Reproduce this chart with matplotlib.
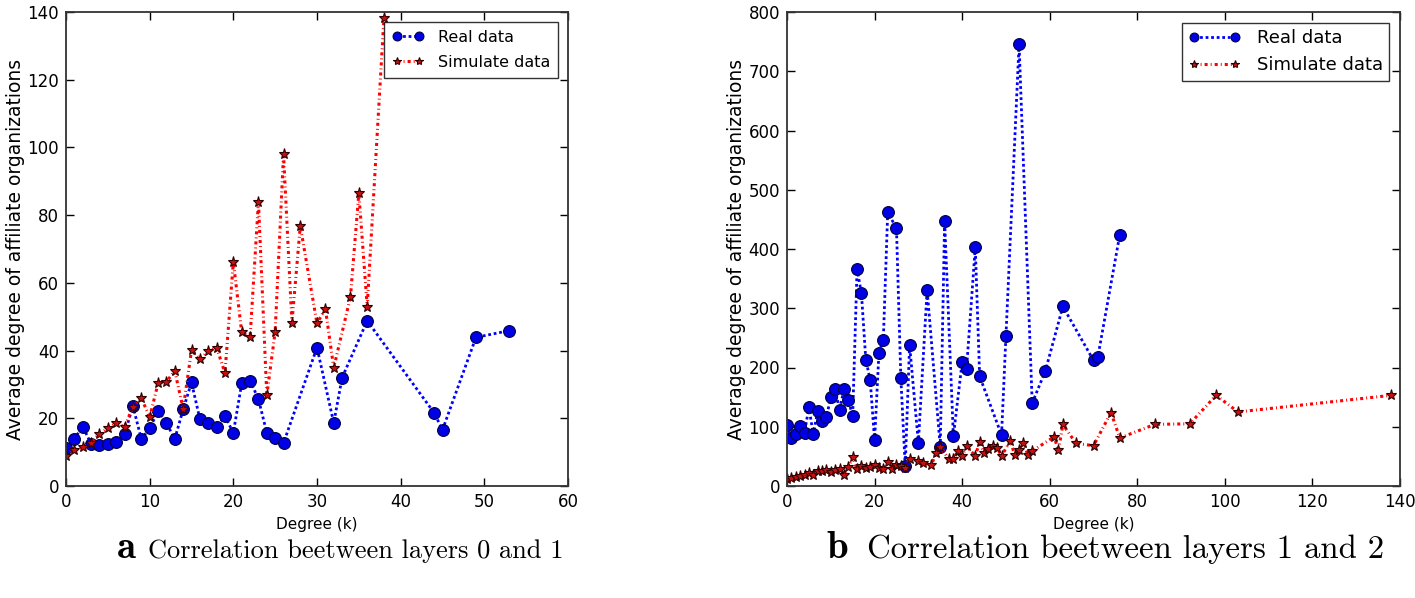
"""
Average degree of affiliate organizations vs degree, real vs simulated,
for two pairs of layers.
"""

import matplotlib
matplotlib.use("Agg")
import matplotlib.pyplot as plt


# Panel a: layers 0 and 1
k_real_a = list(range(0, 27)) + [30, 32, 33, 36, 44, 45, 49, 53]
real_a = [11.3, 14.0, 17.5, 12.5, 12.2, 12.5, 13.0, 15.4, 23.6, 13.9,
          17.0, 22.2, 18.6, 13.9, 22.6, 30.6, 19.8, 18.6, 17.5, 20.6,
          15.7, 30.3, 31.1, 25.7, 15.7, 14.3, 12.7,
          40.9, 18.6, 32.0, 48.8, 21.6, 16.6, 43.9, 45.9]

k_sim_a = list(range(0, 29)) + [30, 31, 32, 34, 35, 36, 38]
sim_a = [8.8, 10.7, 11.5, 12.8, 15.5, 17.0, 18.6, 17.5, 23.4, 26.0,
         20.3, 30.3, 30.8, 34.0, 22.8, 40.1, 37.4, 39.8, 40.9, 33.4,
         66.2, 45.4, 43.9, 83.9, 26.8, 45.6, 98.0, 48.2, 76.8,
         48.0, 52.4, 34.9, 55.9, 86.5, 53.0, 138.2]

# Panel b: layers 1 and 2
k_real_b = list(range(0, 24)) + [25, 26, 27, 28, 30, 32, 35, 36, 38, 40,
                                 41, 43, 44, 49, 50, 53, 56, 59, 63, 70,
                                 71, 76]
real_b = [103, 81, 87, 101, 90, 133, 87, 126, 109, 116,
          150, 164, 128, 163, 145, 118, 366, 325, 213, 179,
          77, 225, 247, 462,
          435, 182, 33, 238, 73, 331, 66, 447, 84, 209,
          197, 403, 185, 86, 253, 746, 140, 194, 303, 212,
          218, 424]

k_sim_b = list(range(0, 29)) + [30, 31, 33, 34, 35, 37, 38, 39, 40, 41,
                                43, 44, 45, 46, 47, 48, 49, 51, 52, 53,
                                54, 55, 56, 61, 62, 63, 66, 70, 74, 76,
                                84, 92, 98, 103, 138]
sim_b = [12, 14, 15.5, 17.7, 19.4, 22, 19, 25, 25, 26.7,
         23, 27.8, 29, 19.4, 32, 48.6, 28, 33.5, 30.6, 32.4,
         34.6, 30.6, 29, 40, 28, 34.6, 33.5, 31, 46,
         42, 38, 36, 55, 66, 45, 45, 59, 51, 67,
         51, 74, 56, 62, 68, 64, 51, 76, 53, 60,
         73, 53, 59, 83, 60, 104, 72, 68, 124, 81,
         104, 105, 153, 125, 153]

LETTERS = ["a", "b"]
CAPTIONS = ["Correlation beetween layers 0 and 1",
            "Correlation beetween layers 1 and 2"]

BLUE = "#0000ff"
RED = "#ff0000"
W, H = 1415, 598


def draw_panel(ax, k_real, real, k_sim, sim, xlim, ylim, leg_size,
               leg_spacing, leg_pad, handle_len):
    ax.plot(k_real, real, color=BLUE, linestyle=(0, (1, 1)), linewidth=2.0,
            marker="o", markersize=8.5, markerfacecolor="#0000e6",
            markeredgecolor="#000040", markeredgewidth=0.8,
            label="Real data")
    ax.plot(k_sim, sim, color=RED, linestyle=(0, (1, 1, 0.3, 1)), linewidth=2.2,
            marker="*", markersize=8, markerfacecolor="#c41010",
            markeredgecolor="#300000", markeredgewidth=0.8,
            label="Simulate data")

    ax.set_xlim(*xlim)
    ax.set_ylim(*ylim)
    ax.set_xlabel("Degree (k)", fontsize=11, labelpad=4)
    ax.set_ylabel("Average degree of affiliate organizations", fontsize=13.5,
                  labelpad=1.5)
    ax.tick_params(direction="in", length=6, width=1, labelsize=12,
                   top=True, right=True, pad=5)
    for spine in ax.spines.values():
        spine.set_color("#333333")
        spine.set_linewidth(1.3)

    leg = ax.legend(loc="upper right", numpoints=2, fontsize=leg_size,
                    fancybox=False, borderaxespad=0.6, handlelength=handle_len,
                    handletextpad=0.9, labelspacing=leg_spacing,
                    borderpad=leg_pad, markerscale=0.75)
    leg.get_frame().set_edgecolor("black")
    leg.get_frame().set_linewidth(1.0)


def main():
    fig = plt.figure(figsize=(W / 100, H / 100), dpi=100)

    ax_a = fig.add_axes([66 / W, 1 - 486 / H, 502 / W, 474 / H])
    draw_panel(ax_a, k_real_a, real_a, k_sim_a, sim_a, (0, 60), (0, 140),
               11.5, 0.65, 0.5, 2.0)

    ax_b = fig.add_axes([787 / W, 1 - 486 / H, 613 / W, 474 / H])
    draw_panel(ax_b, k_real_b, real_b, k_sim_b, sim_b, (0, 140), (0, 800),
               13, 0.5, 0.35, 2.9)

    # Captions under each panel: bold letter at left, text ending at right
    letter_x = [117, 826]
    text_end = [563, 1384]
    text_size = [19, 23.6]
    for i in range(2):
        fig.text(letter_x[i] / W, 1 - 558 / H, LETTERS[i], fontsize=28,
                 family="cmb10", va="baseline", ha="left")
        fig.text(text_end[i] / W, 1 - 558 / H, CAPTIONS[i],
                 fontsize=text_size[i], family="cmr10", va="baseline",
                 ha="right")

    fig.savefig("out.png", dpi=100, facecolor="white")
    plt.close(fig)


if __name__ == "__main__":
    main()
